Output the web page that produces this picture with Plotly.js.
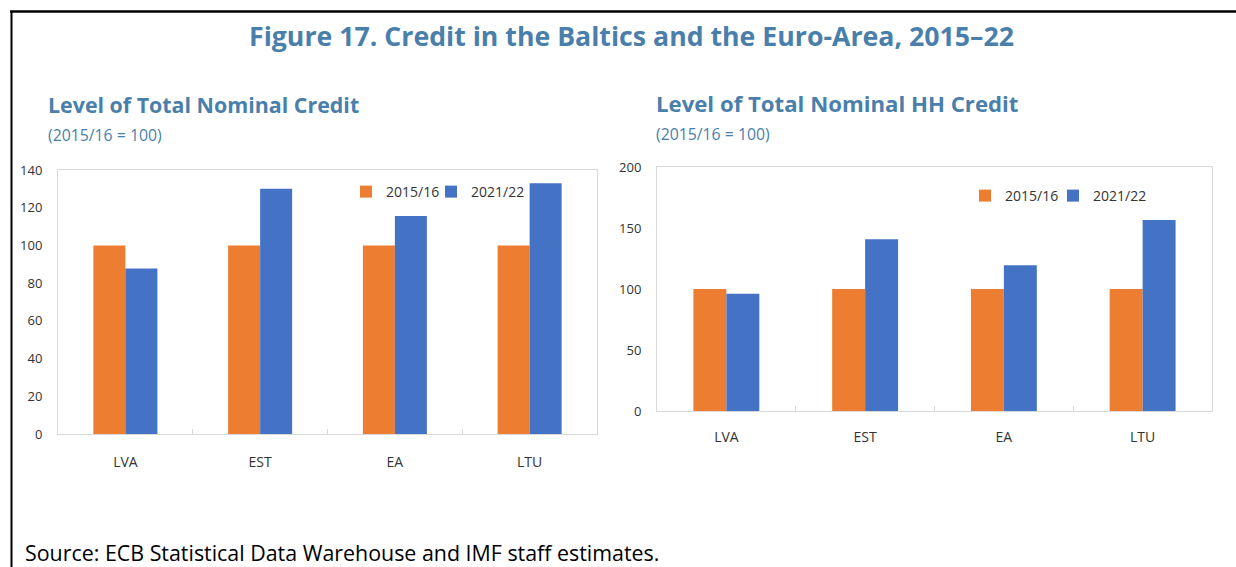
<!DOCTYPE html>
<html>
<head>
<meta charset="utf-8">
<script src="https://cdn.plot.ly/plotly-3.0.1.min.js"></script>
<style>
html,body{margin:0;padding:0;background:#fff;}
#chart{width:1236px;height:567px;}
</style>
</head>
<body>
<div id="chart"></div>
<script>
// ---- data ----
const categories = ["LVA", "EST", "EA", "LTU"];
const seriesNames = ["2015/16", "2021/22"];
const totalCredit2015 = [100, 100, 100, 100];
const totalCredit2021 = [87.8, 130.1, 115.6, 133.0];
const hhCredit2015 = [100, 100, 100, 100];
const hhCredit2021 = [96.1, 140.7, 119.4, 156.6];
const leftTicks = [0, 20, 40, 60, 80, 100, 120, 140];
const rightTicks = [0, 50, 100, 150, 200];

const W = 1236, H = 567;
const px = x => x / W;
const py = y => 1 - y / H;

const ORANGE = "#ED7D31", BLUE = "#4472C4", TITLE = "#4a7fab";
const tickFont = {family: "Open Sans, sans-serif", size: 13, color: "#333333"};
const legendFont = {family: "Open Sans, sans-serif", size: 14, color: "#333333"};

const traces = [
  {type: "bar", x: categories, y: totalCredit2015, name: seriesNames[0], xaxis: "x", yaxis: "y",
   marker: {color: ORANGE}, legend: "legend", hoverinfo: "skip"},
  {type: "bar", x: categories, y: totalCredit2021, name: seriesNames[1], xaxis: "x", yaxis: "y",
   marker: {color: BLUE}, legend: "legend2", hoverinfo: "skip"},
  {type: "bar", x: categories, y: hhCredit2015, name: seriesNames[0], xaxis: "x2", yaxis: "y2",
   marker: {color: ORANGE}, legend: "legend3", hoverinfo: "skip"},
  {type: "bar", x: categories, y: hhCredit2021, name: seriesNames[1], xaxis: "x2", yaxis: "y2",
   marker: {color: BLUE}, legend: "legend4", hoverinfo: "skip"}
];

const xCommon = {
  type: "category", showline: true, mirror: true, linecolor: "#d9d9d9", linewidth: 1,
  ticks: "inside", tickson: "boundaries", ticklen: 5, tickcolor: "#d9d9d9",
  showgrid: false, zeroline: false, fixedrange: true,
  tickfont: {family: "Open Sans, sans-serif", size: 14, color: "#333333"}
};
const yCommon = {
  showline: true, mirror: true, linecolor: "#d9d9d9", linewidth: 1,
  ticks: "", showgrid: false, zeroline: false, fixedrange: true,
  tickfont: tickFont, ticklabelstandoff: 12
};

const legendCommon = {
  orientation: "h", xanchor: "left", yanchor: "middle",
  bgcolor: "rgba(0,0,0,0)", font: legendFont,
  itemclick: false, itemdoubleclick: false, tracegroupgap: 0
};

const layout = {
  width: W, height: H,
  margin: {l: 0, r: 0, t: 0, b: 0},
  paper_bgcolor: "#fff", plot_bgcolor: "#fff",
  barmode: "group", bargap: 0.525, bargroupgap: 0,
  xaxis: Object.assign({}, xCommon, {domain: [px(58), px(597)], anchor: "y", ticklabelstandoff: 15}),
  yaxis: Object.assign({}, yCommon, {domain: [py(434), py(170)], anchor: "x", range: [0, 140],
    tickvals: leftTicks}),
  xaxis2: Object.assign({}, xCommon, {domain: [px(657), px(1212)], anchor: "y2", ticklabelstandoff: 13}),
  yaxis2: Object.assign({}, yCommon, {domain: [py(411), py(167)], anchor: "x2", range: [0, 200],
    tickvals: rightTicks}),
  legend: Object.assign({}, legendCommon, {x: px(346), y: py(192)}),
  legend2: Object.assign({}, legendCommon, {x: px(431), y: py(192)}),
  legend3: Object.assign({}, legendCommon, {x: px(965), y: py(196)}),
  legend4: Object.assign({}, legendCommon, {x: px(1053), y: py(196)}),
  showlegend: true,
  shapes: [
    {type: "line", xref: "paper", yref: "paper", x0: px(10), x1: 1, y0: py(11.5), y1: py(11.5),
     line: {color: "#000", width: 2.5}},
    {type: "line", xref: "paper", yref: "paper", x0: px(11.5), x1: px(11.5), y0: py(11), y1: 0,
     line: {color: "#000", width: 2}}
  ],
  annotations: [
    {text: "<b>Figure 17. Credit in the Baltics and the Euro-Area, 2015–22</b>", xref: "paper", yref: "paper",
     x: px(631), y: py(35), xanchor: "center", yanchor: "middle", showarrow: false,
     font: {family: "Open Sans, sans-serif", size: 26.7, color: TITLE}},
    {text: "<b>Level of Total Nominal Credit</b>", xref: "paper", yref: "paper",
     x: px(46), y: py(104), xanchor: "left", yanchor: "middle", showarrow: false,
     font: {family: "Open Sans, sans-serif", size: 21.4, color: TITLE}},
    {text: "(2015/16 = 100)", xref: "paper", yref: "paper",
     x: px(46), y: py(135), xanchor: "left", yanchor: "middle", showarrow: false,
     font: {family: "Open Sans, sans-serif", size: 15.8, color: TITLE}},
    {text: "<b>Level of Total Nominal HH Credit</b>", xref: "paper", yref: "paper",
     x: px(654), y: py(103), xanchor: "left", yanchor: "middle", showarrow: false,
     font: {family: "Open Sans, sans-serif", size: 22.2, color: TITLE}},
    {text: "(2015/16 = 100)", xref: "paper", yref: "paper",
     x: px(654), y: py(134), xanchor: "left", yanchor: "middle", showarrow: false,
     font: {family: "Open Sans, sans-serif", size: 15.8, color: TITLE}},
    {text: "Source: ECB Statistical Data Warehouse and IMF staff estimates.", xref: "paper", yref: "paper",
     x: px(23), y: py(552), xanchor: "left", yanchor: "middle", showarrow: false,
     font: {family: "Open Sans, sans-serif", size: 21.4, color: "#000"}}
  ]
};

Plotly.newPlot("chart", traces, layout, {displayModeBar: false, staticPlot: true});
</script>
</body>
</html>
